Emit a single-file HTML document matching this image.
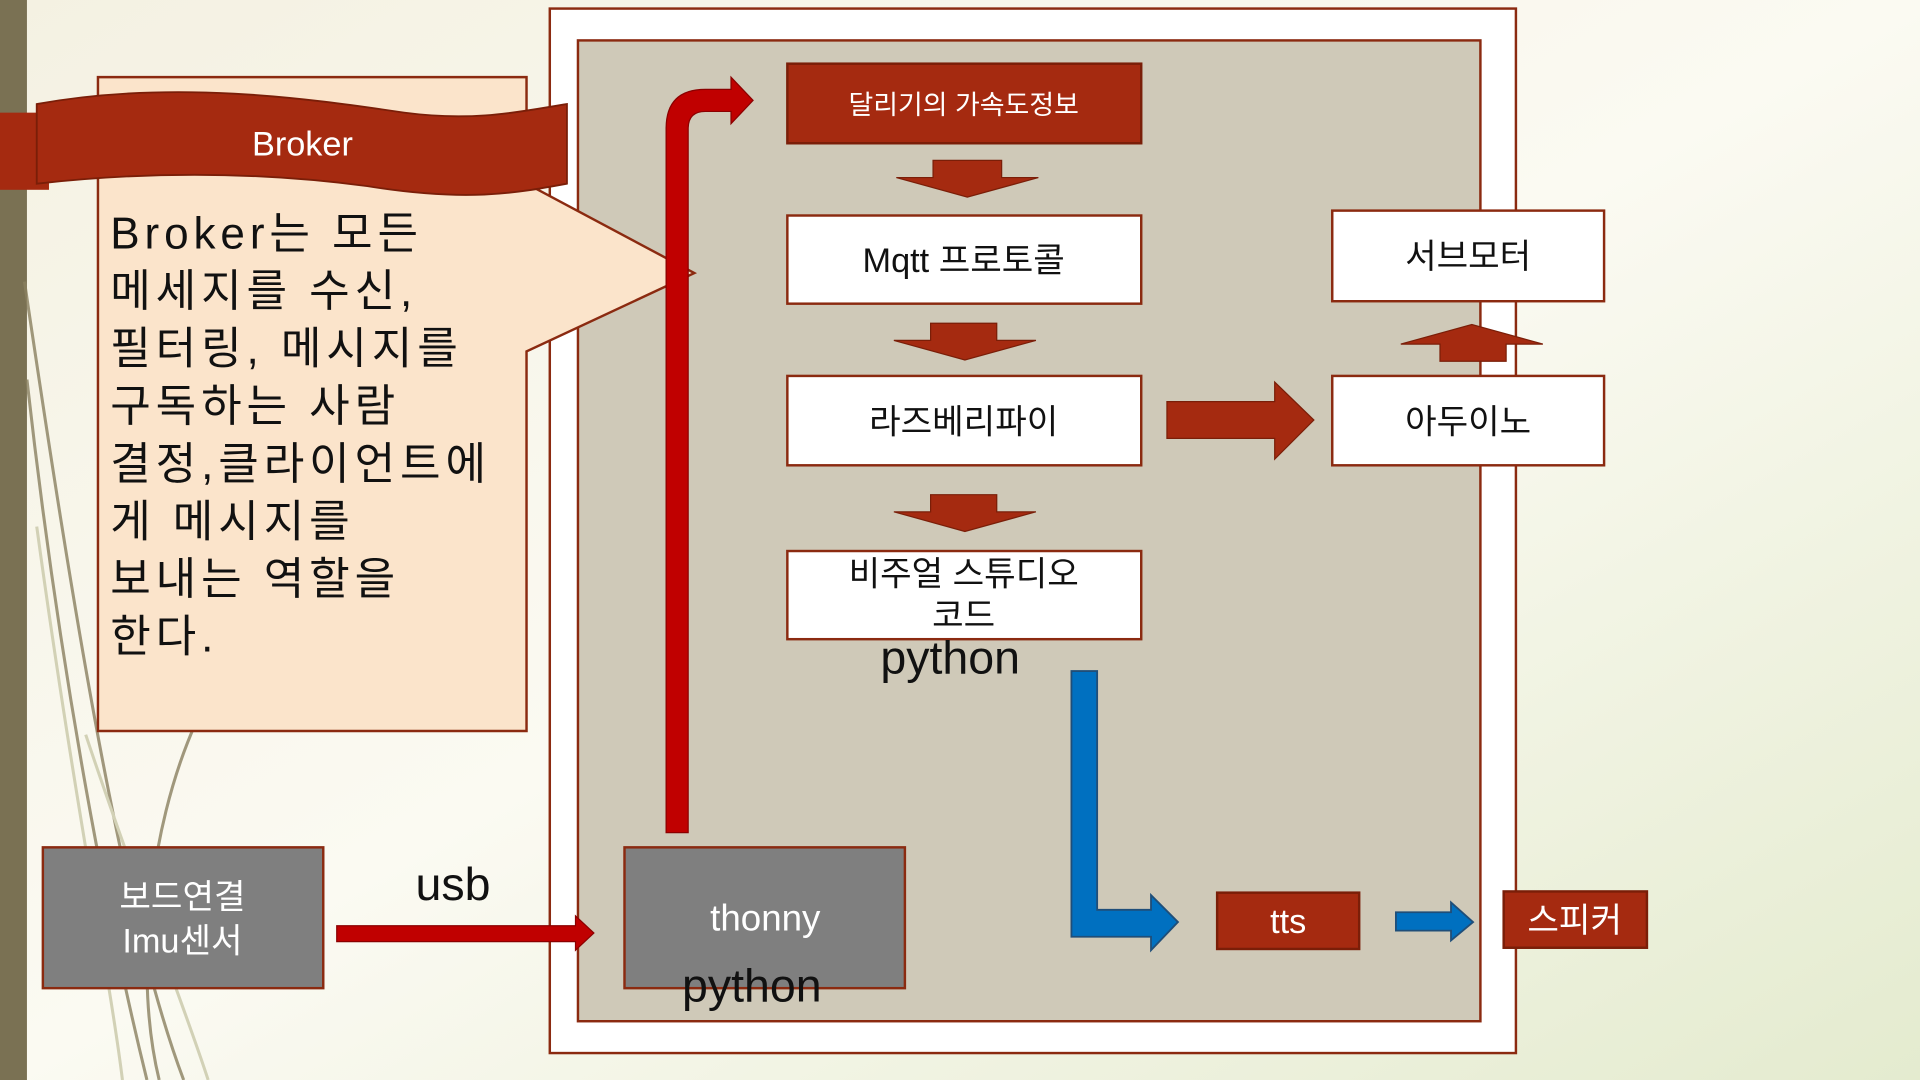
<!DOCTYPE html>
<html><head><meta charset="utf-8"><style>
html,body{margin:0;padding:0;width:1920px;height:1080px;overflow:hidden}
svg{display:block}
text{font-family:"Liberation Sans","Noto Sans CJK KR",sans-serif}
</style></head><body>
<svg width="1920" height="1080" viewBox="0 0 1568 882" preserveAspectRatio="none" xmlns="http://www.w3.org/2000/svg">
<defs>
<linearGradient id="bg" x1="0" y1="0" x2="1" y2="1">
<stop offset="0" stop-color="#F4F1E2"/><stop offset="0.5" stop-color="#FBFAF2"/><stop offset="1" stop-color="#E4EBCF"/>
</linearGradient>
</defs>
<rect width="1568" height="882" fill="url(#bg)"/>
<rect x="0" y="0" width="22" height="882" fill="#7A7153"/>
<g fill="none" stroke="#8A8060" stroke-width="2.5" opacity="0.8">
<path d="M20 230 C60 500 100 750 150 882"/>
<path d="M22 310 C50 560 90 760 120 882"/>
<path d="M160 590 C120 680 110 800 130 882"/>
<path d="M30 430 C60 650 90 800 100 882" stroke="#C9C8A8"/>
<path d="M70 600 C110 720 150 820 170 882" stroke="#C9C8A8"/>
</g>
<rect x="449" y="7" width="789" height="853" fill="#fff" stroke="#8B2A10" stroke-width="2"/>
<rect x="472" y="33" width="737" height="801" fill="#CFC9B8" stroke="#8B2A10" stroke-width="2"/>
<path d="M80 63 H430 V150 L567 223 L430 287 V597 H80 Z" fill="#FBE4CB" stroke="#8B2A10" stroke-width="2"/>
<rect x="0" y="92" width="40" height="63" fill="#A52A10"/>
<path d="M30 85 C140 65 250 80 330 92 C390 100 430 90 463 85 V150 C420 158 380 165 300 152 C210 140 120 140 30 150 Z" fill="#A52A10" stroke="#7A1E08" stroke-width="1.5"/>
<text x="247" y="127" font-size="28" fill="#fff" text-anchor="middle">Broker</text>
<g font-size="36" fill="#111" letter-spacing="4">
<text x="90" y="203">Broker는 모든</text>
<text x="90" y="250">메세지를 수신,</text>
<text x="90" y="297">필터링, 메시지를</text>
<text x="90" y="344">구독하는 사람</text>
<text x="90" y="391">결정,클라이언트에</text>
<text x="90" y="438">게 메시지를</text>
<text x="90" y="485">보내는 역할을</text>
<text x="90" y="532">한다.</text>
</g>
<path d="M544 680 V105 Q544 73 576 73 H597 V63 L615 82 L597 101 V91 H576 Q562 91 562 105 V680 Z" fill="#C00000" stroke="#8B0000" stroke-width="1"/>
<rect x="643" y="52" width="289" height="65" fill="#A52A10" stroke="#7A1E08" stroke-width="2"/>
<text x="787" y="93" font-size="22" fill="#fff" text-anchor="middle">달리기의 가속도정보</text>
<g fill="#A52A10" stroke="#7A1E08" stroke-width="1">
<path d="M762 131 H818 V145 H848 L790 161 L732 145 H762 Z"/>
<path d="M760 264 H814 V278 H846 L788 294 L730 278 H760 Z"/>
<path d="M760 404 H814 V418 H846 L788 434 L730 418 H760 Z"/>
<path d="M1176 295 H1230 V281 H1260 L1202 265 L1144 281 H1176 Z"/>
<path d="M953 328 H1041 V312 L1073 343 L1041 375 V358 H953 Z"/>
</g>
<g fill="#fff" stroke="#8B2A10" stroke-width="2">
<rect x="643" y="176" width="289" height="72"/>
<rect x="643" y="307" width="289" height="73"/>
<rect x="643" y="450" width="289" height="72"/>
<rect x="1088" y="172" width="222" height="74"/>
<rect x="1088" y="307" width="222" height="73"/>
</g>
<g font-size="28" fill="#111" text-anchor="middle">
<text x="787" y="222">Mqtt 프로토콜</text>
<text x="787" y="354">라즈베리파이</text>
<text x="787" y="478">비주얼 스튜디오</text>
<text x="787" y="512">코드</text>
<text x="1199" y="219">서브모터</text>
<text x="1199" y="354">아두이노</text>
</g>
<text x="776" y="550" font-size="38" fill="#111" text-anchor="middle">python</text>
<path d="M875 548 H896 V743 H940 V731 L962 753 L940 776 V765 H875 Z" fill="#0070C0" stroke="#1F4E79" stroke-width="1.5"/>
<path d="M1140 745 H1185 V737 L1203 753 L1185 768 V760 H1140 Z" fill="#0070C0" stroke="#1F4E79" stroke-width="1.5"/>
<rect x="994" y="729" width="116" height="46" fill="#A52A10" stroke="#7A1E08" stroke-width="2"/>
<text x="1052" y="762" font-size="28" fill="#fff" text-anchor="middle">tts</text>
<rect x="1228" y="728" width="117" height="46" fill="#A52A10" stroke="#7A1E08" stroke-width="2"/>
<text x="1286" y="761" font-size="28" fill="#fff" text-anchor="middle">스피커</text>
<rect x="35" y="692" width="229" height="115" fill="#7F7F7F" stroke="#8B2A10" stroke-width="2"/>
<text x="149" y="742" font-size="28" fill="#fff" text-anchor="middle">보드연결</text>
<text x="149" y="778" font-size="28" fill="#fff" text-anchor="middle">Imu센서</text>
<text x="370" y="735" font-size="38" fill="#111" text-anchor="middle">usb</text>
<path d="M275 756 H470 V748 L485 762 L470 776 V769 H275 Z" fill="#C00000" stroke="#8B0000" stroke-width="1"/>
<rect x="510" y="692" width="229" height="115" fill="#7F7F7F" stroke="#8B2A10" stroke-width="2"/>
<text x="625" y="760" font-size="30" fill="#fff" text-anchor="middle">thonny</text>
<text x="614" y="818" font-size="38" fill="#111" text-anchor="middle">python</text>
</svg>
</body></html>
